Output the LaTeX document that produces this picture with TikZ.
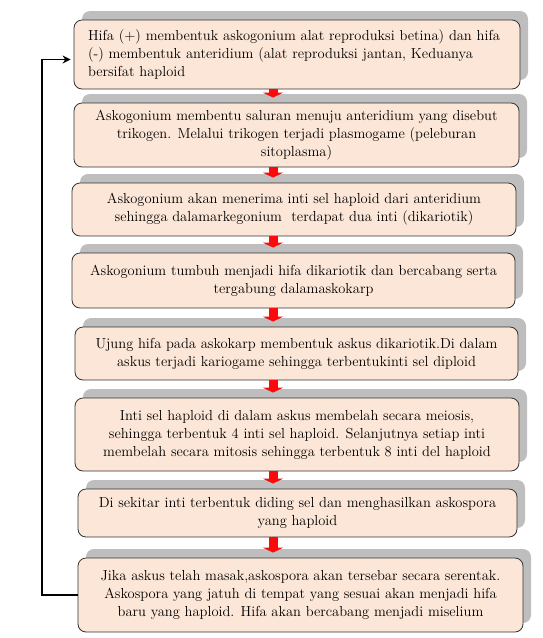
\documentclass[tikz,border=0pt]{standalone}
\usepackage{tikz}
\usetikzlibrary{arrows.meta, positioning, shadows, calc}
\definecolor{BoxPeach}{RGB}{252, 230, 215}
\definecolor{ShadeGray}{RGB}{190, 190, 190}
\definecolor{FlowRed}{RGB}{250, 10, 10}

\begin{document}
\begin{tikzpicture}[
            x=1pt, y=-1pt,
            stage/.style={draw=black!80, line width=0.8pt, rounded corners=8pt, fill=BoxPeach,
                drop shadow={shadow xshift=8pt, shadow yshift=9pt, fill=ShadeGray, opacity=1},
                font=\fontsize{14.5}{18}\selectfont, align=center, inner sep=0pt},
            flow/.style={FlowRed, line width=9pt, shorten >=5pt, -{Triangle[width=20pt, length=5pt]}},
            loopline/.style={black, line width=1.8pt, -{Stealth[length=8pt, width=8pt]}}
        ]
        \useasboundingbox (0,0) rectangle (543,638);

        % The stages
        \node[stage, minimum width=446pt, minimum height=69pt, text width=418pt, align=left] (s1) at (297,54.5)
            {Hifa (+) membentuk askogonium alat reproduksi betina) dan hifa\\(-) membentuk anteridium (alat reproduksi jantan, Keduanya\\bersifat haploid};
        \node[stage, minimum width=445pt, minimum height=64pt] (s2) at (296.5,135)
            {Askogonium membentu saluran menuju anteridium yang disebut\\trikogen. Melalui trikogen terjadi plasmogame (peleburan\\sitoplasma)};
        \node[stage, minimum width=444pt, minimum height=53pt] (s3) at (294,209.5)
            {Askogonium akan menerima inti sel haploid dari anteridium\\sehingga dalamarkegonium\ \ terdapat dua inti (dikariotik)};
        \node[stage, minimum width=443pt, minimum height=55pt] (s4) at (293.5,280.5)
            {Askogonium tumbuh menjadi hifa dikariotik dan bercabang serta\\tergabung dalamaskokarp};
        \node[stage, minimum width=443pt, minimum height=53pt] (s5) at (296.5,353.5)
            {Ujung hifa pada askokarp membentuk askus dikariotik.Di dalam\\askus terjadi kariogame sehingga terbentukinti sel diploid};
        \node[stage, minimum width=444pt, minimum height=73pt] (s6) at (297,434.5)
            {Inti sel haploid di dalam askus membelah secara meiosis,\\sehingga terbentuk 4 inti sel haploid. Selanjutnya setiap inti\\membelah secara mitosis sehingga terbentuk 8 inti del haploid};
        \node[stage, minimum width=439pt, minimum height=48pt] (s7) at (297.5,513)
            {Di sekitar inti terbentuk diding sel dan menghasilkan askospora\\yang haploid};
        \node[stage, minimum width=445pt, minimum height=74pt] (s8) at (300.5,595)
            {Jika askus telah masak,askospora akan tersebar secara serentak.\\Askospora yang jatuh di tempat yang sesuai akan menjadi hifa\\baru yang haploid. Hifa akan bercabang menjadi miselium};

        % Flow arrows
        \coordinate (axis) at (273,0);
        \foreach \a/\b in {s1/s2, s2/s3, s3/s4, s4/s5, s5/s6, s6/s7, s7/s8}
            \draw[flow] (\a.south -| axis) -- (\b.north -| axis);

        % Back to the start
        \draw[loopline] (s8.west) -- ++(-36,0) |- ([yshift=-5pt, xshift=-3pt]s1.west);

        \end{tikzpicture}
\end{document}
